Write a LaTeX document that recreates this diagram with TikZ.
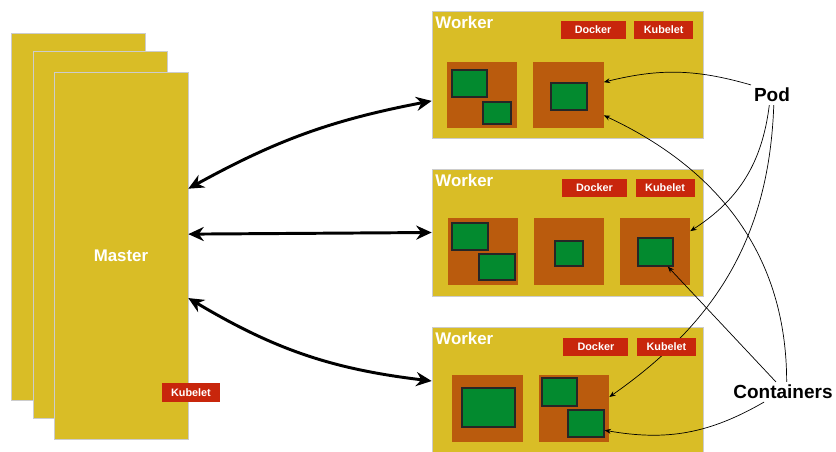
\documentclass[tikz,border=0pt]{standalone}
\usepackage{fontspec}
\setmainfont{Liberation Sans}
\usetikzlibrary{arrows.meta}
\usetikzlibrary{positioning}

\definecolor{kyellow}{RGB}{217,189,38}
\definecolor{korange}{RGB}{186,91,13}
\definecolor{kgreen}{RGB}{3,138,47}
\definecolor{kred}{RGB}{200,38,12}

\tikzstyle{sheet}     = [draw=black!20, fill=kyellow, minimum width=3.35cm, minimum height=9.175cm, inner sep=0pt]
\tikzstyle{workerbox} = [draw=black!20, fill=kyellow, minimum width=6.775cm, minimum height=3.175cm, inner sep=0pt]
\tikzstyle{podbox}    = [fill=korange, minimum width=1.75cm, minimum height=1.65cm, inner sep=0pt]
\tikzstyle{ctrbox}    = [draw=black!85, fill=kgreen, line width=0.8pt, inner sep=0pt]
\tikzstyle{badge}     = [fill=kred, text=white, font=\bfseries\fontsize{7.7}{9}\selectfont, minimum width=1.475cm, minimum height=0.45cm, inner sep=0pt]
\tikzstyle{title}     = [text=white, font=\bfseries\fontsize{12}{14}\selectfont, inner xsep=2.5pt, inner ysep=4pt]
\tikzstyle{callout}   = [font=\bfseries\fontsize{13.5}{16}\selectfont, inner sep=2pt]
\tikzstyle{bigarrow}  = [line width=2.1pt, {Stealth[length=11pt,width=10pt]}-{Stealth[length=11pt,width=10pt]}]
\tikzstyle{callarrow} = [line width=0.5pt, -{Stealth[length=4.5pt,width=3.5pt]}]

\begin{document}
\begin{tikzpicture}[x=0.025cm, y=-0.025cm]
  \useasboundingbox (0,0) rectangle (836,452);

  % Master, three stacked sheets
  % Back layer
  \node[sheet] (m1) at (78,217) {};
  % Mid layer
  \node[sheet] (m2) at (100,235) {};
  % Front layer
  \node[sheet] (m3) at (121,256) {};
  \node[title] (mlbl) at (m3) {Master};

  % Workers
  \node[workerbox] (w1) at (567.5,74.5) {};
  \node[workerbox] (w2) at (567.5,232.5) {};
  \node[workerbox] (w3) at (567.5,390.5) {};
  \node[title, anchor=north west] (w1t) at (w1.north west) {Worker};
  \node[title, anchor=north west] (w2t) at (w2.north west) {Worker};
  \node[title, anchor=north west] (w3t) at (w3.north west) {Worker};

  % Pods of worker 1
  \node[podbox] (w1p1) at (482,95) {};
  \node[podbox] (w1p2) at (568.5,95) {};
  \node[ctrbox, minimum width=0.875cm, minimum height=0.675cm] (w1c1) at (469.5,83.5) {};
  \node[ctrbox, minimum width=0.7cm, minimum height=0.55cm] (w1c2) at (497,113) {};
  \node[ctrbox, minimum width=0.9cm, minimum height=0.675cm] (w1c3) at (569,96.5) {};

  % Pods of worker 2
  \node[podbox] (w2p1) at (483,251.5) {};
  \node[podbox] (w2p2) at (569,251.5) {};
  \node[podbox] (w2p3) at (655,251.5) {};
  \node[ctrbox, minimum width=0.9cm, minimum height=0.675cm] (w2c1) at (470,236.5) {};
  \node[ctrbox, minimum width=0.9cm, minimum height=0.65cm] (w2c2) at (497,267) {};
  \node[ctrbox, minimum width=0.7cm, minimum height=0.625cm] (w2c3) at (569,253.5) {};
  \node[ctrbox, minimum width=0.875cm, minimum height=0.7cm] (w2c4) at (655.5,252) {};

  % Pods of worker 3
  \node[podbox] (w3p1) at (487.5,408.5) {};
  \node[podbox] (w3p2) at (574,408.5) {};
  \node[ctrbox, minimum width=1.325cm, minimum height=0.975cm] (w3c1) at (488.5,407.5) {};
  \node[ctrbox, minimum width=0.875cm, minimum height=0.7cm] (w3c2) at (559.5,392) {};
  \node[ctrbox, minimum width=0.9cm, minimum height=0.675cm] (w3c3) at (586,423.5) {};

  % Master to worker links
  \draw[bigarrow] (m3.45) to[bend left=9] (w1.191);
  \draw[bigarrow] (m3.18) -- (w2.west);
  \draw[bigarrow] (m3.-32) to[bend right=12] (w3.176);

  % Callouts
  \node[callout] (pod) at (772,95) {Pod};
  \node[callout] (cont) at (783,392) {Containers};

  \draw[callarrow] (pod.north west) to[bend right=15] (w1p2.20);
  \draw[callarrow] (pod.-105) to[bend left=25] (w2p3.30);
  \draw[callarrow] (pod.-80) to[out=-92,in=35] (w3p2.18);
  \draw[callarrow] (cont.70) to[out=90,in=-25] (w1p2.-30);
  \draw[callarrow] (cont.125) -- (w2c4.-50);
  \draw[callarrow] (cont.-152) to[bend left=20] (w3c3.-20);

  % Docker and Kubelet badges, on top of the callout lines
  \node[badge, minimum width=1.45cm] (mk) at (191,392.5) {Kubelet};
  \node[badge, anchor=north east] (k1) at ([xshift=-7pt,yshift=-7pt]w1.north east) {Kubelet};
  \node[badge, minimum width=1.625cm, left=0.2cm of k1] (d1) {Docker};
  \node[badge, anchor=north east] (k2) at ([xshift=-6pt,yshift=-7pt]w2.north east) {Kubelet};
  \node[badge, minimum width=1.625cm, left=0.2cm of k2] (d2) {Docker};
  \node[badge, anchor=north east] (k3) at ([xshift=-5pt,yshift=-7.5pt]w3.north east) {Kubelet};
  \node[badge, minimum width=1.625cm, left=0.2cm of k3] (d3) {Docker};
\end{tikzpicture}
\end{document}
